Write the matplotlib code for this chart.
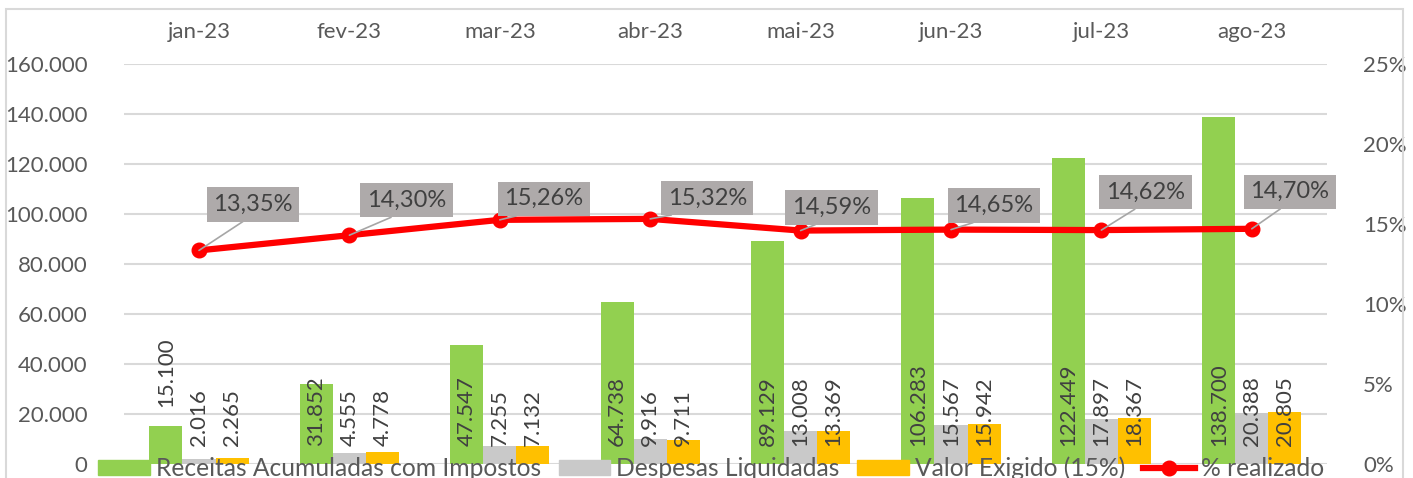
import numpy as np
from matplotlib import pyplot as plt
from matplotlib.patches import Patch, Rectangle
from matplotlib.lines import Line2D
from matplotlib.ticker import FuncFormatter

# Dados do gráfico
meses = ['jan-23', 'fev-23', 'mar-23', 'abr-23', 'mai-23', 'jun-23', 'jul-23', 'ago-23']
receitas = [15100, 31852, 47547, 64738, 89129, 106283, 122449, 138700]
despesas = [2016, 4555, 7255, 9916, 13008, 15567, 17897, 20388]
exigido = [2265, 4778, 7132, 9711, 13369, 15942, 18367, 20805]
realizado = [13.35, 14.30, 15.26, 15.32, 14.59, 14.65, 14.62, 14.70]

# deslocamento (px) das caixas de rótulo da linha, como no Excel
desloc_caixas = [(54, 46), (57, 35), (44, 21), (57, 21), (31, 23), (43, 24), (44, 38), (38, 37)]

plt.rcParams['font.family'] = ['Lato', 'DejaVu Sans']
cor_texto = '#595959'
cor_grade = '#D9D9D9'

fig = plt.figure(figsize=(14.13, 4.78), dpi=100)
ax = fig.add_axes([123.8 / 1413, 14 / 478, (1327 - 123.8) / 1413, 400 / 478])
ax2 = ax.twinx()

x = np.arange(len(meses))
larg = 0.22
ax.bar(x - larg, receitas, larg, color='#92D050')
ax.bar(x, despesas, larg, color='#C9C9C9')
ax.bar(x + larg, exigido, larg, color='#FFC000')

def fmt_milhar(v):
    return f'{v:,.0f}'.replace(',', '.')

# rótulos das barras (base interna; o primeiro verde fica acima da barra)
for serie, off in [(receitas, -larg), (despesas, 0), (exigido, larg)]:
    for i, v in enumerate(serie):
        base = 7200
        if serie is receitas and v < 20000:
            base = v + 7700
        ax.text(x[i] + off, base, fmt_milhar(v), rotation=90, ha='center', va='bottom',
                fontsize=16, color='#404040', zorder=4)

ax.set_ylim(0, 160000)
ax.set_xlim(-0.5, len(meses) - 0.5)
ax.set_yticks(np.arange(0, 160001, 20000))
ax.yaxis.set_major_formatter(FuncFormatter(lambda v, p: fmt_milhar(v)))
ax.grid(axis='y', color=cor_grade, linewidth=1.5, zorder=0)
ax.set_axisbelow(True)
ax.xaxis.tick_top()
ax.set_xticks(x)
ax.set_xticklabels(meses)
ax.tick_params(axis='x', length=0, pad=16, labelsize=16, labelcolor=cor_texto)
ax.tick_params(axis='y', length=0, pad=26, labelsize=16, labelcolor=cor_texto)
for s in ax.spines.values():
    s.set_visible(False)

# linha % realizado
ax2.plot(x, np.array(realizado) / 100, color='#FF0000', lw=4.5, marker='o',
         markersize=10.5, zorder=3, solid_capstyle='round')
ax2.set_ylim(0, 0.25)
ax2.set_yticks(np.arange(0, 0.2501, 0.05))
ax2.yaxis.set_major_formatter(FuncFormatter(lambda v, p: f'{v * 100:.0f}%'))
ax2.tick_params(axis='y', length=0, pad=26, labelsize=16, labelcolor=cor_texto)
for s in ax2.spines.values():
    s.set_visible(False)

for i, v in enumerate(realizado):
    dx, dy = desloc_caixas[i]
    ax2.annotate(f'{v:.2f}%'.replace('.', ','), xy=(x[i], v / 100),
                 xytext=(dx * 0.72, dy * 0.72), textcoords='offset points',
                 ha='center', va='center', fontsize=17, color='#404040', zorder=5,
                 bbox=dict(boxstyle='square,pad=0.28', fc='#AEAAAA', ec='none'),
                 arrowprops=dict(arrowstyle='-', color='#A6A6A6', lw=1.2,
                                 shrinkA=0, shrinkB=0, relpos=(0.5, 0)))

# legenda
handles = [Patch(color='#92D050'), Patch(color='#C9C9C9'), Patch(color='#FFC000'),
           Line2D([], [], color='#FF0000', lw=4.5, marker='o', markersize=10.5)]
rotulos = ['Receitas Acumuladas com Impostos', 'Despesas Liquidadas',
           'Valor Exigido (15%)', '% realizado']
fig.legend(handles, rotulos, loc='center', bbox_to_anchor=(711 / 1413, 10 / 478), ncol=4,
           frameon=False, fontsize=17.7, labelcolor=cor_texto, handlelength=2.1,
           handleheight=0.56, handletextpad=0.25, columnspacing=0.72, borderpad=0)

# borda do gráfico
fig.patches.append(Rectangle((6 / 1413, -0.1), 1397 / 1413, 1.1 - 9 / 478,
                             transform=fig.transFigure, fill=False, ec=cor_grade, lw=1.5))

fig.savefig('out.png', dpi=100)
